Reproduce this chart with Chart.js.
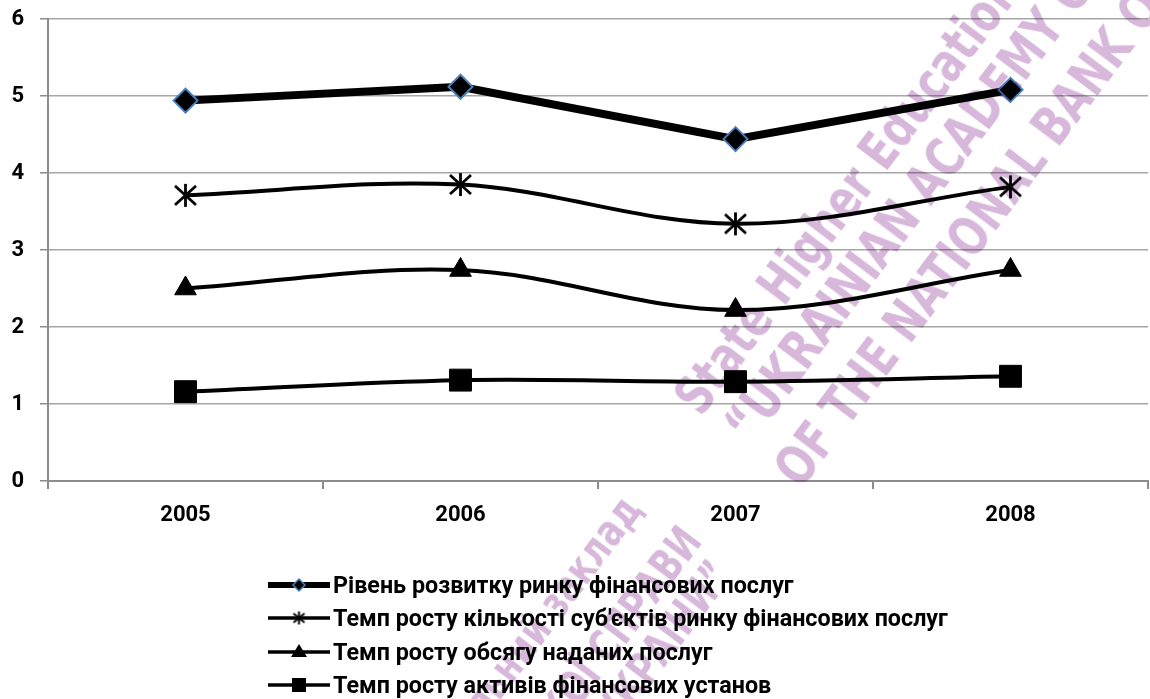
<!DOCTYPE html>
<html><head><meta charset="utf-8">
<script src="https://cdn.jsdelivr.net/npm/chart.js@4/dist/chart.umd.min.js"></script>
<style>
html,body{margin:0;padding:0;background:#fff;width:1150px;height:699px;overflow:hidden;}
#wrap{position:relative;width:1150px;height:699px;overflow:hidden;}
#cw{position:absolute;left:0;top:0;width:1150px;height:560px;}
#legend{position:absolute;left:268px;top:568px;font-family:Roboto,"Noto Sans",sans-serif;font-weight:bold;font-size:23.3px;color:#000;}
.li{display:flex;align-items:center;height:33.5px;white-space:nowrap;}
.li canvas{margin-right:3px;display:block;}
.wm{position:absolute;white-space:nowrap;font-family:"DejaVu Sans Condensed","DejaVu Sans",sans-serif;font-weight:bold;color:#d7b8db;mix-blend-mode:multiply;line-height:1;}
.en{font-size:54px;height:54px;transform-origin:0 100%;transform:rotate(-53deg) scaleX(0.84);}
.ua{font-size:44px;height:44px;width:1400px;text-align:right;transform-origin:100% 100%;transform:rotate(-53deg) scaleX(0.84);}
</style></head>
<body><div id="wrap">
<div id="cw"><canvas id="c" width="1150" height="560"></canvas></div>
<div id="legend"></div>
<div class="wm en" style="left:708px;top:369px;">State Higher Education</div>
<div class="wm en" style="left:758px;top:397px;">“UKRAINIAN ACADEMY OF</div>
<div class="wm en" style="left:808px;top:441px;">OF THE NATIONAL BANK OF</div>
<div class="wm ua" style="left:-751px;top:470px;">Державний вищий навчальний заклад</div>
<div class="wm ua" style="left:-691px;top:502px;">«УНІВЕРСИТЕТ БАНКІВСЬКОЇ СПРАВИ</div>
<div class="wm ua" style="left:-661px;top:536px;">НАЦІОНАЛЬНОГО БАНКУ УКРАЇНИ”</div>
</div>
<script>
const categories = ['2005', '2006', '2007', '2008'];
const seriesNames = [
  'Рівень розвитку ринку фінансових послуг',
  'Темп росту кількості суб\'єктів ринку фінансових послуг',
  'Темп росту обсягу наданих послуг',
  'Темп росту активів фінансових установ'
];
const marketLevel = [4.94, 5.12, 4.44, 5.08];
const subjectsGrowth = [3.71, 3.85, 3.34, 3.82];
const servicesGrowth = [2.50, 2.74, 2.22, 2.74];
const assetsGrowth = [1.16, 1.31, 1.29, 1.36];
const yTicks = [0, 1, 2, 3, 4, 5, 6];

function makeStar(size, lw) {
  const c = document.createElement('canvas');
  c.width = size; c.height = size;
  const g = c.getContext('2d');
  g.strokeStyle = '#000'; g.lineWidth = lw; g.lineCap = 'butt';
  const m = 1;
  g.beginPath();
  g.moveTo(size / 2, m); g.lineTo(size / 2, size - m);
  g.moveTo(m + 1, m + 2); g.lineTo(size - m - 1, size - m - 2);
  g.moveTo(size - m - 1, m + 2); g.lineTo(m + 1, size - m - 2);
  g.stroke();
  return c;
}
const starImg = makeStar(25, 2.8);

const FONT = 'Roboto';
const datasets = [
  { label: seriesNames[0], data: marketLevel, borderColor: '#000', borderWidth: 8, tension: 0,
    pointStyle: 'rectRot', pointRadius: 12, pointBackgroundColor: '#000', pointBorderColor: '#4a7ebb', pointBorderWidth: 2 },
  { label: seriesNames[1], data: subjectsGrowth, borderColor: '#000', borderWidth: 4, tension: 0.35,
    pointStyle: starImg, pointRadius: 12, pointBackgroundColor: '#000', pointBorderColor: '#000' },
  { label: seriesNames[2], data: servicesGrowth, borderColor: '#000', borderWidth: 4, tension: 0.35,
    pointStyle: 'triangle', pointRadius: 12.5, pointBackgroundColor: '#000', pointBorderColor: '#000', pointBorderWidth: 1 },
  { label: seriesNames[3], data: assetsGrowth, borderColor: '#000', borderWidth: 4, tension: 0.35,
    pointStyle: 'rect', pointRadius: 15.5, pointBackgroundColor: '#000', pointBorderColor: '#000', pointBorderWidth: 1 }
];

function zeroPad(s) { s.paddingTop = 0; s.paddingBottom = 0; s.paddingLeft = 0; s.paddingRight = 0; }

new Chart(document.getElementById('c'), {
  type: 'line',
  data: { labels: categories, datasets: datasets },
  options: {
    responsive: false, animation: false, events: [],
    layout: { autoPadding: false, padding: { top: 19, right: 2, left: 0, bottom: 0 } },
    plugins: { legend: { display: false }, tooltip: { enabled: false } },
    scales: {
      x: {
        offset: true,
        grid: { offset: true, drawOnChartArea: false, drawTicks: true, tickLength: 8, color: '#8c8c8c', lineWidth: 2 },
        border: { color: '#8c8c8c', width: 2 },
        ticks: { color: '#000', font: { family: FONT, weight: 'bold', size: 22 }, padding: 13, maxRotation: 0 },
        afterFit: s => { s.height = 79; zeroPad(s); }
      },
      y: {
        min: 0, max: 6,
        afterBuildTicks: s => { s.ticks = yTicks.map(v => ({ value: v })); },
        grid: { color: '#a6a6a6', lineWidth: 1.5, tickLength: 8, drawTicks: true, tickColor: '#8c8c8c' },
        border: { color: '#8c8c8c', width: 2 },
        ticks: { color: '#000', font: { family: FONT, weight: 'bold', size: 22 }, padding: 16 },
        afterFit: s => { s.width = 48; zeroPad(s); }
      }
    }
  }
});

// HTML legend
const legend = document.getElementById('legend');
const styles = ['diamond', 'star', 'triangle', 'square'];
datasets.forEach((ds, i) => {
  const row = document.createElement('div'); row.className = 'li';
  const c = document.createElement('canvas'); c.width = 62; c.height = 22;
  const g = c.getContext('2d');
  g.strokeStyle = '#000'; g.lineWidth = i === 0 ? 6 : 3.5;
  g.beginPath(); g.moveTo(0, 11); g.lineTo(62, 11); g.stroke();
  const cx = 31, cy = 11;
  g.fillStyle = '#000';
  if (styles[i] === 'diamond') {
    g.beginPath(); g.moveTo(cx - 6, cy); g.lineTo(cx, cy - 6); g.lineTo(cx + 6, cy); g.lineTo(cx, cy + 6); g.closePath();
    g.fill(); g.strokeStyle = '#4a7ebb'; g.lineWidth = 1.5; g.stroke();
  } else if (styles[i] === 'star') {
    g.drawImage(makeStar(15, 2), cx - 7.5, cy - 7.5);
  } else if (styles[i] === 'triangle') {
    g.beginPath(); g.moveTo(cx, cy - 8); g.lineTo(cx + 8, cy + 5); g.lineTo(cx - 8, cy + 5); g.closePath(); g.fill();
  } else {
    g.fillRect(cx - 7, cy - 7, 14, 14);
  }
  const t = document.createElement('span'); t.textContent = ds.label;
  row.appendChild(c); row.appendChild(t);
  legend.appendChild(row);
});
</script>
</body></html>
